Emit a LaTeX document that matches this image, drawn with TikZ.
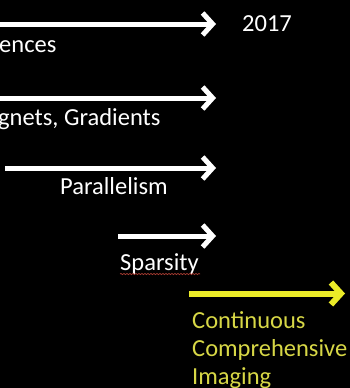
\documentclass[tikz,border=0pt]{standalone}
\usepackage{fontspec}
\setmainfont{Carlito}
\usetikzlibrary{arrows.meta}
\usetikzlibrary{decorations.pathmorphing}
\definecolor{slideyellow}{RGB}{235,235,40}
\definecolor{textyellow}{RGB}{215,215,70}
\definecolor{spellred}{RGB}{170,60,50}

\begin{document}
\begin{tikzpicture}[x=1pt, y=-1pt,
		arr/.style={draw=white, line width=5pt, -{Straight Barb[length=10pt, width=22pt]}},
		lbl/.style={text=white, anchor=base west, inner sep=0pt, font=\fontsize{24.5}{28}\selectfont},
		ylbl/.style={lbl, text=textyellow}]
		\fill[black] (0,0) rectangle (350,388);
		\useasboundingbox (0,0) rectangle (350,388);
		\begin{scope}
			\clip (0,0) rectangle (350,388);
			% arrow ends
			\coordinate (a1) at (-5,24); \coordinate (b1) at (216,24);
			\coordinate (a2) at (-5,98); \coordinate (b2) at (216,98);
			\coordinate (a3) at (5,168); \coordinate (b3) at (216,168);
			\coordinate (a4) at (118,236); \coordinate (b4) at (216,236);
			\coordinate (a5) at (189,293.5); \coordinate (b5) at (345,293.5);
			\draw[arr] (a1) -- (b1); \draw[arr] (a2) -- (b2); \draw[arr] (a3) --
			(b3); \draw[arr] (a4) -- (b4); \draw[arr, draw=slideyellow, line
			width=6pt] (a5) -- (b5);
			% labels
			\node (year) [lbl] at (242,31) {2017}; \node (seq) [lbl] at (-1,52)
			{ences}; \node (grad) [lbl] at (-2,125) {gnets, Gradients}; \node
			(par) [lbl] at (60,194) {Parallelism}; \node (sparse) [lbl] at
			(120,270) {Sparsity};
			\node (cont) [ylbl] at (192,328) {Continuous}; \node (comp) [ylbl] at
			(192,356) {Comprehensive}; \node (img) [ylbl] at (192,384) {Imaging};
			\draw[spellred, line width=0.7pt, decorate, decoration={snake,
					amplitude=0.6pt, segment length=3pt}] (sparse.base west) ++(0,4) --
			++(80,0);
		\end{scope}
	\end{tikzpicture}
\end{document}
